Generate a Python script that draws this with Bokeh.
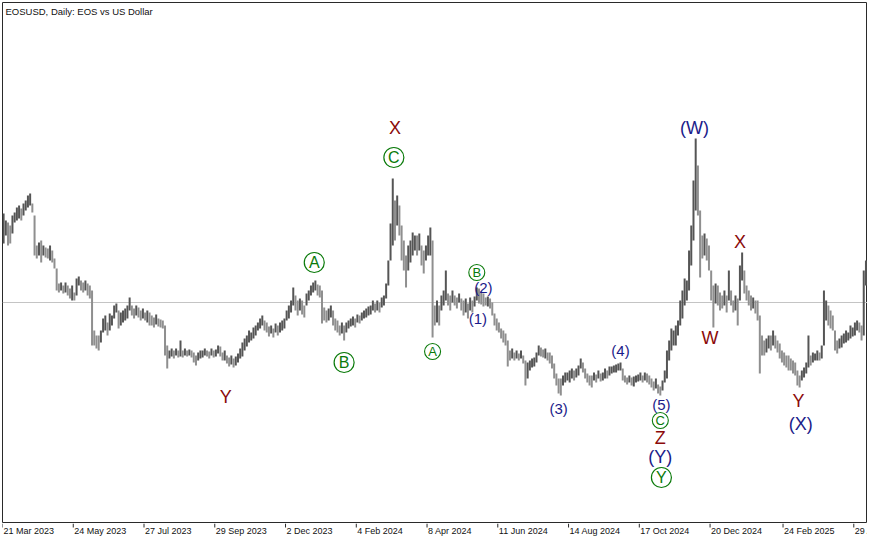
import pandas as pd
from bokeh.plotting import figure
from bokeh.layouts import column
from bokeh.models import Range1d, Span, Label, ColumnDataSource
from bokeh.embed import file_html
from bokeh.resources import INLINE
from bokeh.core.properties import value

# ---------------- data (EOSUSD daily, sampled every 2 days) ----------------
start = "2023-03-21"
first_bar = "2023-03-22"

high = [
    0.874, 0.860, 0.856, 0.850, 0.870, 0.876, 0.886, 0.890, 0.884, 0.894,
    0.900, 0.910, 0.914, 0.894, 0.870, 0.810, 0.816, 0.820, 0.810, 0.806,
    0.804, 0.810, 0.800, 0.784, 0.764, 0.734, 0.736, 0.730, 0.736, 0.730,
    0.724, 0.730, 0.716, 0.744, 0.748, 0.740, 0.736, 0.740, 0.734, 0.730,
    0.720, 0.640, 0.630, 0.630, 0.640, 0.664, 0.670, 0.656, 0.674, 0.670,
    0.690, 0.694, 0.680, 0.676, 0.680, 0.684, 0.690, 0.706, 0.690, 0.684,
    0.690, 0.686, 0.680, 0.684, 0.676, 0.680, 0.676, 0.670, 0.666, 0.672,
    0.664, 0.662, 0.660, 0.650, 0.610, 0.600, 0.604, 0.600, 0.604, 0.600,
    0.620, 0.600, 0.604, 0.600, 0.602, 0.600, 0.596, 0.590, 0.596, 0.600,
    0.600, 0.604, 0.600, 0.598, 0.604, 0.600, 0.602, 0.610, 0.608, 0.596,
    0.600, 0.590, 0.586, 0.590, 0.584, 0.588, 0.594, 0.604, 0.616, 0.624,
    0.630, 0.640, 0.636, 0.646, 0.650, 0.656, 0.664, 0.670, 0.660, 0.656,
    0.648, 0.650, 0.644, 0.654, 0.650, 0.656, 0.660, 0.664, 0.680, 0.690,
    0.700, 0.726, 0.710, 0.700, 0.704, 0.700, 0.690, 0.714, 0.720, 0.730,
    0.736, 0.740, 0.732, 0.730, 0.720, 0.686, 0.680, 0.684, 0.690, 0.680,
    0.664, 0.660, 0.650, 0.656, 0.650, 0.656, 0.660, 0.664, 0.668, 0.664,
    0.672, 0.670, 0.676, 0.680, 0.684, 0.688, 0.690, 0.700, 0.694, 0.700,
    0.696, 0.706, 0.710, 0.734, 0.780, 0.854, 0.944, 0.900, 0.910, 0.890,
    0.850, 0.820, 0.790, 0.810, 0.820, 0.836, 0.830, 0.830, 0.834, 0.810,
    0.800, 0.810, 0.830, 0.846, 0.820, 0.690, 0.700, 0.690, 0.710, 0.720,
    0.760, 0.714, 0.710, 0.720, 0.710, 0.706, 0.714, 0.704, 0.700, 0.704,
    0.694, 0.706, 0.700, 0.708, 0.726, 0.724, 0.718, 0.714, 0.706, 0.708,
    0.704, 0.696, 0.674, 0.664, 0.656, 0.644, 0.640, 0.634, 0.620, 0.600,
    0.604, 0.596, 0.600, 0.594, 0.600, 0.590, 0.580, 0.576, 0.580, 0.584,
    0.586, 0.596, 0.610, 0.606, 0.602, 0.604, 0.596, 0.596, 0.590, 0.574,
    0.554, 0.544, 0.544, 0.550, 0.556, 0.556, 0.560, 0.564, 0.560, 0.564,
    0.570, 0.584, 0.576, 0.564, 0.554, 0.550, 0.550, 0.556, 0.552, 0.560,
    0.554, 0.556, 0.564, 0.560, 0.568, 0.568, 0.570, 0.572, 0.574, 0.576,
    0.564, 0.550, 0.546, 0.550, 0.546, 0.548, 0.550, 0.552, 0.556, 0.550,
    0.556, 0.554, 0.550, 0.544, 0.538, 0.544, 0.532, 0.528, 0.540, 0.560,
    0.600, 0.620, 0.644, 0.640, 0.650, 0.660, 0.700, 0.720, 0.744, 0.740,
    0.800, 0.850, 0.940, 1.024, 0.970, 0.880, 0.830, 0.834, 0.824, 0.810,
    0.760, 0.730, 0.734, 0.730, 0.716, 0.710, 0.720, 0.710, 0.760, 0.720,
    0.700, 0.710, 0.704, 0.770, 0.796, 0.760, 0.730, 0.720, 0.710, 0.706,
    0.700, 0.700, 0.670, 0.630, 0.620, 0.624, 0.630, 0.630, 0.640, 0.630,
    0.620, 0.614, 0.600, 0.596, 0.590, 0.590, 0.584, 0.580, 0.576, 0.560,
    0.550, 0.560, 0.566, 0.576, 0.630, 0.590, 0.596, 0.594, 0.600, 0.596,
    0.610, 0.720, 0.700, 0.690, 0.680, 0.670, 0.640, 0.620, 0.624, 0.630,
    0.634, 0.640, 0.636, 0.650, 0.646, 0.656, 0.660, 0.656, 0.650, 0.760,
    0.780, 0.756, 0.740, 0.710, 0.720,
]

low = [
    0.814, 0.830, 0.810, 0.814, 0.834, 0.856, 0.860, 0.864, 0.860, 0.870,
    0.880, 0.886, 0.890, 0.876, 0.790, 0.784, 0.790, 0.776, 0.790, 0.786,
    0.784, 0.780, 0.776, 0.764, 0.720, 0.716, 0.720, 0.714, 0.716, 0.710,
    0.704, 0.700, 0.700, 0.710, 0.730, 0.720, 0.716, 0.720, 0.710, 0.704,
    0.610, 0.610, 0.604, 0.600, 0.616, 0.636, 0.640, 0.630, 0.640, 0.650,
    0.664, 0.676, 0.644, 0.650, 0.656, 0.660, 0.664, 0.680, 0.670, 0.664,
    0.670, 0.666, 0.660, 0.664, 0.660, 0.656, 0.650, 0.650, 0.646, 0.652,
    0.648, 0.646, 0.644, 0.590, 0.564, 0.584, 0.588, 0.584, 0.590, 0.586,
    0.588, 0.586, 0.590, 0.588, 0.590, 0.586, 0.576, 0.570, 0.580, 0.584,
    0.586, 0.590, 0.588, 0.584, 0.590, 0.586, 0.588, 0.594, 0.588, 0.580,
    0.580, 0.574, 0.568, 0.572, 0.566, 0.570, 0.576, 0.584, 0.588, 0.600,
    0.608, 0.616, 0.620, 0.624, 0.630, 0.640, 0.644, 0.650, 0.640, 0.636,
    0.628, 0.634, 0.626, 0.636, 0.630, 0.636, 0.640, 0.644, 0.660, 0.664,
    0.676, 0.690, 0.680, 0.670, 0.680, 0.672, 0.666, 0.690, 0.700, 0.710,
    0.716, 0.720, 0.710, 0.706, 0.654, 0.660, 0.656, 0.660, 0.666, 0.650,
    0.640, 0.636, 0.630, 0.634, 0.620, 0.636, 0.644, 0.648, 0.650, 0.646,
    0.656, 0.654, 0.660, 0.664, 0.666, 0.670, 0.672, 0.680, 0.676, 0.680,
    0.676, 0.686, 0.690, 0.704, 0.730, 0.780, 0.810, 0.820, 0.850, 0.830,
    0.780, 0.760, 0.726, 0.760, 0.776, 0.790, 0.800, 0.790, 0.800, 0.770,
    0.754, 0.780, 0.790, 0.790, 0.626, 0.650, 0.656, 0.650, 0.680, 0.690,
    0.700, 0.690, 0.680, 0.696, 0.690, 0.684, 0.696, 0.680, 0.670, 0.676,
    0.664, 0.680, 0.676, 0.688, 0.700, 0.694, 0.692, 0.688, 0.690, 0.688,
    0.684, 0.670, 0.650, 0.640, 0.636, 0.624, 0.616, 0.610, 0.568, 0.580,
    0.584, 0.580, 0.584, 0.580, 0.584, 0.574, 0.530, 0.544, 0.560, 0.566,
    0.568, 0.576, 0.590, 0.588, 0.586, 0.584, 0.580, 0.574, 0.564, 0.544,
    0.530, 0.514, 0.510, 0.530, 0.536, 0.540, 0.536, 0.544, 0.540, 0.546,
    0.550, 0.564, 0.556, 0.544, 0.536, 0.530, 0.526, 0.540, 0.536, 0.544,
    0.538, 0.540, 0.544, 0.544, 0.550, 0.554, 0.556, 0.556, 0.560, 0.560,
    0.540, 0.536, 0.532, 0.536, 0.530, 0.528, 0.536, 0.538, 0.540, 0.536,
    0.540, 0.536, 0.532, 0.526, 0.520, 0.524, 0.514, 0.510, 0.520, 0.536,
    0.544, 0.580, 0.600, 0.610, 0.610, 0.630, 0.650, 0.664, 0.690, 0.700,
    0.720, 0.770, 0.820, 0.880, 0.870, 0.746, 0.784, 0.790, 0.780, 0.760,
    0.700, 0.646, 0.694, 0.690, 0.680, 0.684, 0.690, 0.676, 0.700, 0.690,
    0.676, 0.680, 0.650, 0.700, 0.740, 0.714, 0.700, 0.690, 0.680, 0.684,
    0.674, 0.660, 0.554, 0.590, 0.590, 0.596, 0.604, 0.600, 0.610, 0.604,
    0.596, 0.584, 0.576, 0.570, 0.566, 0.560, 0.560, 0.554, 0.550, 0.530,
    0.526, 0.540, 0.546, 0.554, 0.566, 0.570, 0.576, 0.580, 0.580, 0.580,
    0.584, 0.610, 0.660, 0.650, 0.644, 0.640, 0.600, 0.594, 0.604, 0.606,
    0.614, 0.616, 0.620, 0.624, 0.628, 0.630, 0.640, 0.636, 0.620, 0.630,
    0.730, 0.720, 0.700, 0.680, 0.690,
]

current_price = 0.696

tick_dates = ["2023-03-21", "2023-05-24", "2023-07-27", "2023-09-29", "2023-12-02",
              "2024-02-04", "2024-04-08", "2024-06-11", "2024-08-14", "2024-10-17",
              "2024-12-20", "2025-02-24", "2025-04-29"]
tick_labels = ["21 Mar 2023", "24 May 2023", "27 Jul 2023", "29 Sep 2023", "2 Dec 2023",
               "4 Feb 2024", "8 Apr 2024", "11 Jun 2024", "14 Aug 2024", "17 Oct 2024",
               "20 Dec 2024", "24 Feb 2025", "29 Apr 2025"]

# Elliott-wave labels (days since start, price, text)
red_days = [202, 355, 595, 640, 667, 720]
red_prices = [0.508, 1.046, 0.426, 0.626, 0.818, 0.500]
red_text = ["Y", "X", "Z", "W", "X", "Y"]

navy_big_days = [626, 595, 722]
navy_big_prices = [1.046, 0.388, 0.454]
navy_big_text = ["(W)", "(Y)", "(X)"]

navy_small_days = [430, 435, 503, 559, 596]
navy_small_prices = [0.664, 0.726, 0.484, 0.600, 0.492]
navy_small_text = ["(1)", "(2)", "(3)", "(4)", "(5)"]

green_big_days = [282, 309, 354, 596]
green_big_prices = [0.776, 0.576, 0.986, 0.346]
green_big_text = ["A", "B", "C", "Y"]

green_small_days = [389, 429, 595]
green_small_prices = [0.598, 0.756, 0.460]
green_small_text = ["A", "B", "C"]

# ---------------- build ----------------
t0 = pd.Timestamp(start)
n = min(len(high), len(low))
dates = pd.date_range(first_bar, periods=n, freq="2D")
days = [(d - t0).days for d in dates]
mids = [(high[i] + low[i]) / 2 for i in range(n)]
colors = ["#555555" if i == 0 or mids[i] >= mids[i - 1] else "#8f8f8f" for i in range(n)]
src = ColumnDataSource(dict(day=days, high=high[:n], low=low[:n], color=colors))

tick_days = [(pd.Timestamp(d) - t0).days for d in tick_dates]

FONT = "Liberation Sans"
AXIS = "#2a2a2a"
x_range = Range1d(0, 782.4)

p = figure(width=867, height=523,
           x_range=x_range, y_range=Range1d(0.254, 1.296),
           output_backend="svg", toolbar_location=None,
           x_axis_location=None, y_axis_location=None,
           min_border_left=2, min_border_right=0, min_border_top=2, min_border_bottom=0,
           background_fill_color="white", border_fill_color="white")
p.grid.visible = False
p.outline_line_color = AXIS
p.outline_line_width = 1

p.add_layout(Span(location=current_price, dimension="width", line_color="#c4c4c4",
                  line_width=1, level="underlay"))

p.segment(x0="day", y0="low", x1="day", y1="high", source=src,
          line_color="color", line_width=2.0)

p.add_layout(Label(x=3, y=518, x_units="screen", y_units="screen",
                   text="EOSUSD, Daily:  EOS vs US Dollar", text_align="left",
                   text_baseline="top", text_font=FONT, text_font_size="9.5px",
                   text_color="#111111"))

RED = "#8b0a0a"
NAVY = "#1b1b8a"
GREEN = "#0a7a0a"

p.text(x=red_days, y=red_prices, text=red_text, text_align="center",
       text_baseline="middle", text_font=value(FONT), text_font_size="18px",
       text_color=RED)
p.text(x=navy_big_days, y=navy_big_prices, text=navy_big_text, text_align="center",
       text_baseline="middle", text_font=value(FONT), text_font_size="18px",
       text_color=NAVY)
p.text(x=navy_small_days, y=navy_small_prices, text=navy_small_text, text_align="center",
       text_baseline="middle", text_font=value(FONT), text_font_size="15px",
       text_color=NAVY)

p.scatter(x=green_big_days, y=green_big_prices, marker="circle", size=20,
          fill_color=None, line_color=GREEN, line_width=1.2)
p.text(x=green_big_days, y=green_big_prices, text=green_big_text, text_align="center",
       text_baseline="middle", text_font=value(FONT), text_font_size="16px",
       text_color=GREEN)
p.scatter(x=green_small_days, y=green_small_prices, marker="circle", size=16,
          fill_color=None, line_color=GREEN, line_width=1.1)
p.text(x=green_small_days, y=green_small_prices, text=green_small_text, text_align="center",
       text_baseline="middle", text_font=value(FONT), text_font_size="13px",
       text_color=GREEN)

# time scale strip below the chart: tick marks and left-aligned date labels
ts = figure(width=867, height=14, x_range=x_range, y_range=Range1d(0, 14),
            output_backend="svg", toolbar_location=None,
            x_axis_location=None, y_axis_location=None,
            min_border_left=2, min_border_right=0, min_border_top=0, min_border_bottom=0,
            background_fill_color="white", border_fill_color="white")
ts.grid.visible = False
ts.outline_line_color = None
ts.segment(x0=tick_days, y0=[14] * len(tick_days), x1=tick_days, y1=[10] * len(tick_days),
           line_color=AXIS, line_width=1)
ts.text(x=tick_days, y=[11.5] * len(tick_days), text=tick_labels, x_offset=1,
        text_align="left", text_baseline="top", text_font=value(FONT),
        text_font_size="9px", text_color="#111111")

page = column(p, ts, spacing=0)
open("out.html", "w").write(file_html(page, INLINE))
